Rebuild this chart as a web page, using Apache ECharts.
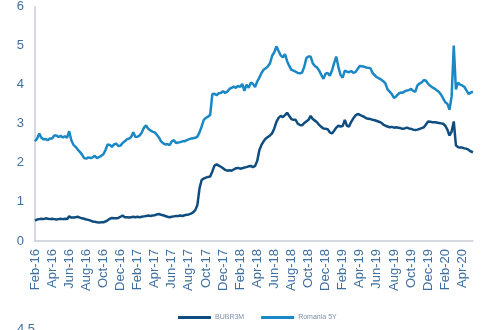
<!DOCTYPE html>
<html>
<head>
<meta charset="utf-8">
<script src="https://cdn.jsdelivr.net/npm/echarts@6/dist/echarts.min.js"></script>
<style>
  html, body { margin: 0; padding: 0; background: #ffffff; }
  #chart { width: 499px; height: 330px; }
</style>
</head>
<body>
<div id="chart"></div>
<script>
// Weekly observations, four per month, starting Feb 2016 (x = month offset / 4 steps)
const tickLabels = ['Feb-16','Apr-16','Jun-16','Aug-16','Oct-16','Dec-16',
  'Feb-17','Apr-17','Jun-17','Aug-17','Oct-17','Dec-17',
  'Feb-18','Apr-18','Jun-18','Aug-18','Oct-18','Dec-18',
  'Feb-19','Apr-19','Jun-19','Aug-19','Oct-19','Dec-19',
  'Feb-20','Apr-20'];

const bubr3m = [
  0.52,0.55,0.56,0.57, 0.56,0.58,0.57,0.56, 0.57,0.56,0.55,0.56, 0.57,0.56,0.57,0.56,   // Feb-May 16
  0.63,0.60,0.60,0.61, 0.62,0.60,0.58,0.57, 0.55,0.54,0.52,0.50, 0.49,0.48,0.47,0.48,   // Jun-Sep 16
  0.48,0.50,0.53,0.57, 0.59,0.58,0.58,0.59, 0.62,0.65,0.61,0.61, 0.60,0.61,0.62,0.61,   // Oct 16-Jan 17
  0.62,0.61,0.62,0.63, 0.64,0.65,0.64,0.65, 0.66,0.68,0.69,0.67, 0.66,0.64,0.62,0.61,   // Feb-May 17
  0.62,0.63,0.64,0.64, 0.65,0.64,0.66,0.67, 0.68,0.70,0.73,0.79, 0.92,1.35,1.56,1.60,   // Jun-Sep 17
  1.62,1.64,1.65,1.78, 1.93,1.96,1.93,1.90, 1.86,1.82,1.80,1.81, 1.80,1.83,1.86,1.87,   // Oct 17-Jan 18
  1.85,1.86,1.88,1.89, 1.91,1.92,1.89,1.92, 2.05,2.32,2.46,2.55, 2.62,2.66,2.70,2.76,   // Feb-May 18
  2.88,3.05,3.15,3.20, 3.17,3.22,3.28,3.20, 3.12,3.10,3.10,3.00, 2.97,2.96,3.02,3.06,   // Jun-Sep 18
  3.10,3.20,3.12,3.08, 3.04,2.97,2.92,2.88, 2.87,2.86,2.78,2.75, 2.82,2.90,2.95,2.93,   // Oct 18-Jan 19
  2.94,3.10,2.95,2.93, 3.05,3.14,3.21,3.25, 3.23,3.20,3.18,3.14, 3.13,3.12,3.10,3.09,   // Feb-May 19
  3.07,3.05,3.03,2.98, 2.95,2.93,2.91,2.92, 2.90,2.91,2.90,2.89, 2.87,2.88,2.90,2.88,   // Jun-Sep 19
  2.87,2.85,2.84,2.85, 2.87,2.89,2.91,2.98, 3.06,3.05,3.04,3.04, 3.03,3.02,3.01,3.00,   // Oct 19-Jan 20
  2.95,2.85,2.70,2.80, 3.06,2.45,2.40,2.39, 2.39,2.37,2.36,2.33, 2.29,2.27              // Feb-May 20
];

const romania5y = [
  2.55,2.62,2.75,2.64, 2.60,2.61,2.58,2.62, 2.62,2.70,2.70,2.66, 2.69,2.65,2.68,2.64,   // Feb-May 16
  2.81,2.58,2.46,2.41, 2.34,2.28,2.21,2.12, 2.11,2.14,2.12,2.14, 2.18,2.12,2.15,2.18,   // Jun-Sep 16
  2.22,2.33,2.47,2.46, 2.41,2.47,2.49,2.43, 2.44,2.51,2.55,2.60, 2.62,2.66,2.78,2.66,   // Oct 16-Jan 17
  2.67,2.70,2.78,2.90, 2.96,2.87,2.83,2.80, 2.78,2.72,2.65,2.55, 2.50,2.47,2.48,2.45,   // Feb-May 17
  2.55,2.58,2.51,2.52, 2.53,2.55,2.55,2.58, 2.60,2.62,2.63,2.64, 2.67,2.78,2.93,3.10,   // Jun-Sep 17
  3.15,3.18,3.23,3.76, 3.77,3.73,3.78,3.79, 3.83,3.79,3.82,3.89, 3.92,3.95,3.92,3.97,   // Oct 17-Jan 18
  3.94,4.02,3.84,4.00, 3.92,4.05,4.02,3.94, 4.08,4.18,4.30,4.38, 4.42,4.47,4.55,4.74,   // Feb-May 18
  4.83,4.98,4.86,4.75, 4.70,4.78,4.60,4.48, 4.38,4.36,4.33,4.30, 4.29,4.31,4.45,4.68,   // Jun-Sep 18
  4.72,4.72,4.55,4.48, 4.44,4.36,4.25,4.15, 4.28,4.30,4.23,4.36, 4.55,4.72,4.45,4.25,   // Oct 18-Jan 19
  4.18,4.36,4.33,4.32, 4.35,4.30,4.32,4.40, 4.48,4.47,4.46,4.44, 4.43,4.42,4.30,4.24,   // Feb-May 19
  4.19,4.16,4.13,4.09, 4.03,3.88,3.82,3.76, 3.66,3.70,3.76,3.80, 3.79,3.83,3.85,3.86,   // Jun-Sep 19
  3.89,3.84,3.82,3.98, 4.03,4.06,4.12,4.10, 4.02,3.97,3.93,3.90, 3.86,3.82,3.75,3.65,   // Oct 19-Jan 20
  3.55,3.51,3.36,3.70, 5.00,3.88,4.05,4.00, 3.98,3.94,3.85,3.76, 3.80,3.82              // Feb-May 20
];

const seriesNames = ['BUBR3M', 'Romania 5Y'];
const seriesColors = ['#0f4c7f', '#1a88c5'];
const textColor = '#3f6f9f';

// pair each weekly value with its position in months from Feb 2016
function toPoints(values) {
  return values.map((v, i) => [i / 4, v]);
}

const chart = echarts.init(document.getElementById('chart'), null, { renderer: 'canvas' });

chart.setOption({
  animation: false,
  backgroundColor: '#ffffff',
  grid: { left: 35, right: 26, top: 6, bottom: 89, containLabel: false },
  legend: {
    left: 173,
    top: 309,
    itemWidth: 33,
    itemHeight: 3,
    itemGap: 17,
    icon: 'rect',
    textStyle: { fontFamily: 'Liberation Sans, Arial, sans-serif', fontSize: 7, color: '#7d91aa', padding: [0, 0, 0, -1] },
    data: seriesNames
  },
  xAxis: {
    type: 'value',
    min: 0,
    max: 51.25,
    interval: 2,
    splitLine: { show: false },
    axisTick: { show: false },
    axisLine: { lineStyle: { color: '#c8cdd8', width: 1.5 } },
    axisLabel: {
      rotate: 90,
      margin: 8,
      fontFamily: 'Liberation Sans, Arial, sans-serif',
      fontSize: 13,
      color: textColor,
      showMaxLabel: false,
      formatter: function (v) {
        const k = v / 2;
        return Number.isInteger(k) && tickLabels[k] ? tickLabels[k] : '';
      }
    }
  },
  yAxis: {
    type: 'value',
    min: 0,
    max: 6,
    interval: 1,
    splitLine: { show: false },
    axisTick: { show: false },
    axisLine: { show: true, lineStyle: { color: '#c8cdd8', width: 1.5 } },
    axisLabel: {
      margin: 11,
      fontFamily: 'Liberation Sans, Arial, sans-serif',
      fontSize: 13,
      color: textColor
    }
  },
  graphic: [{
    type: 'text',
    left: 17,
    top: 323,
    style: { text: '4.5', font: '13px "Liberation Sans", Arial, sans-serif', fill: textColor }
  }],
  series: [
    {
      name: seriesNames[0],
      type: 'line',
      data: toPoints(bubr3m),
      showSymbol: false,
      color: seriesColors[0],
      lineStyle: { width: 2.5, color: seriesColors[0] }
    },
    {
      name: seriesNames[1],
      type: 'line',
      data: toPoints(romania5y),
      showSymbol: false,
      color: seriesColors[1],
      lineStyle: { width: 2.5, color: seriesColors[1] }
    }
  ]
});
</script>
</body>
</html>
